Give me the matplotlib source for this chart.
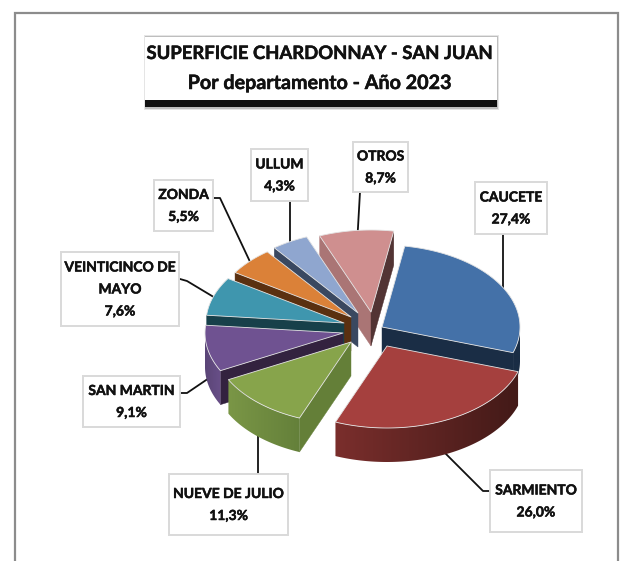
import numpy as np
import matplotlib
matplotlib.use('Agg')
import matplotlib.pyplot as plt
import matplotlib.patheffects as pe
from matplotlib.patches import Polygon, Rectangle
from matplotlib.colors import to_rgb

# data
departments = ['CAUCETE', 'SARMIENTO', 'NUEVE DE JULIO', 'SAN MARTIN',
               'VEINTICINCO DE\nMAYO', 'ZONDA', 'ULLUM', 'OTROS']
shares = [27.4, 26.0, 11.3, 9.1, 7.6, 5.5, 4.3, 8.7]

# style, one entry per slice
top_colors = ['#4471a8', '#a5403e', '#87a44b', '#6f5291', '#3f96ae', '#db8138', '#8fa6cf', '#cf8f8f']
cut_colors = ['#1a2d45', '#43191a', '#647f38', '#33223f', '#17404a', '#5a3010', '#3a4860', '#523434']
rim_left = ['#1a2d45', '#7a2e2c', '#7a9646', '#5a4577', '#17404a', '#5a3010', '#3a4860', '#aa7575']
rim_right = ['#1a2d45', '#431a18', '#64803a', '#6a5089', '#17404a', '#5a3010', '#3a4860', '#aa7575']
shifts = [(14, -2), (19, 17), (-17, 13), (-25, 4), (-24, -6), (-17, -12), (-10, -16), (3, -17)]
draw_order = [7, 6, 5, 4, 0, 3, 2, 1]

label_boxes = [(475, 182, 547, 234), (490, 470, 582, 532), (169, 474, 288, 535), (83, 376, 180, 427),
               (61, 252, 179, 326), (154, 180, 213, 231), (251, 149, 308, 201), (353, 142, 408, 192)]
leaders = [[(503, 234), (503, 295)],
           [(490, 491), (483, 491), (440, 448)],
           [(258, 474), (258, 420)],
           [(180, 393), (187, 393), (215, 374)],
           [(180, 279), (187, 281), (222, 302)],
           [(213, 198), (220, 198), (252, 266)],
           [(290, 201), (290, 255)],
           [(360, 192), (357, 245)]]

CX, CY = 368, 329
RX, RY = 138, 82
DEPTH = 34
START = 9.5
FONT = 'Lato'
INK = [pe.withStroke(linewidth=0.35, foreground='#111111')]

W, H = 622, 561
fig = plt.figure(figsize=(W / 100, H / 100), dpi=100)
ax = fig.add_axes([0, 0, 1, 1])

# outer frame, open at the bottom
ax.plot([14.5, 14.5, 618, 618], [H, 12.5, 12.5, H], color='#8c8c8c', lw=1.6, solid_joinstyle='miter')


def outer_point(cx, cy, deg):
    t = np.radians(deg)
    return cx + RX * np.sin(t), cy - RY * np.cos(t)


def draw_cut(apex, p, other, color, z):
    # flat cut side of a slice, only if it faces the viewer
    d = np.array(p) - np.array(apex)
    n = np.array([-d[1], d[0]])
    if np.dot(n, np.array(other) - np.array(apex)) > 0:
        n = -n
    if n[1] <= 0:
        return
    ax.add_patch(Polygon([apex, p, (p[0], p[1] + DEPTH), (apex[0], apex[1] + DEPTH)],
                         closed=True, fc=color, ec=color, lw=0.3, zorder=z))


def draw_rim(arc, left, right, z):
    # outer wall, shaded from left to right with a clipped gradient
    lower = [(p[0], p[1] + DEPTH) for p in reversed(arc)]
    wall = Polygon(list(arc) + lower, closed=True, fc='none', ec='none', zorder=z)
    ax.add_patch(wall)
    xs = [p[0] for p in arc]
    ys = [p[1] for p in arc]
    ramp = np.linspace(0, 1, 64)[None, :, None]
    grad = np.array(to_rgb(left))[None, None, :] * (1 - ramp) + np.array(to_rgb(right))[None, None, :] * ramp
    im = ax.imshow(grad, extent=(min(xs) - 0.5, max(xs) + 0.5, max(ys) + DEPTH + 1, min(ys) - 1),
                   aspect='auto', zorder=z, interpolation='bilinear')
    im.set_clip_path(wall)


bounds = START + np.concatenate([[0], np.cumsum(shares)]) * 360 / np.sum(shares)

for z, i in enumerate(draw_order):
    a0, a1 = bounds[i], bounds[i + 1]
    cx, cy = CX + shifts[i][0], CY + shifts[i][1]
    apex = (cx, cy)
    base = 10 + z * 3
    angles = np.linspace(a0, a1, max(int(a1 - a0) * 2, 8))
    arc = [outer_point(cx, cy, a) for a in angles]
    mid = arc[len(arc) // 2]

    draw_cut(apex, arc[0], mid, cut_colors[i] if i != 7 else rim_left[i], base)
    draw_cut(apex, arc[-1], mid, cut_colors[i], base)

    front = [p for p, a in zip(arc, angles) if np.cos(np.radians(a)) < 0]
    if len(front) > 1:
        draw_rim(front, rim_left[i], rim_right[i], base + 1)

    ax.add_patch(Polygon([apex] + arc, closed=True, fc=top_colors[i], ec='#e4e4e4', lw=0.6,
                         joinstyle='round', zorder=base + 2))

# leader lines run under the pie
for pts in leaders:
    ax.plot([p[0] for p in pts], [p[1] for p in pts], color='#111111', lw=1.3, zorder=5)

# data labels
for name, share, box in zip(departments, shares, label_boxes):
    x0, y0, x1, y1 = box
    ax.add_patch(Rectangle((x0, y0), x1 - x0, y1 - y0, fc='white', ec='#d9d9d9', lw=1.4, zorder=41))
    txt = name + '\n' + ('%.1f%%' % share).replace('.', ',')
    ax.text((x0 + x1) / 2, (y0 + y1) / 2 + 0.5, txt, ha='center', va='center', family=FONT, weight='bold',
            fontsize=10, color='#111111', linespacing=2.0, zorder=42, path_effects=INK)

# title box: soft grey halo, then the hard shadow under it
ax.add_patch(Rectangle((143.5, 35), 355, 75, fc='#999999', ec='none', alpha=0.25, zorder=43))
ax.add_patch(Rectangle((144.5, 36), 353, 72.5, fc='#777777', ec='none', alpha=0.35, zorder=43))
ax.add_patch(Rectangle((145, 100), 352, 6.5, fc='#111111', ec='none', zorder=43))
ax.add_patch(Rectangle((145, 37), 352, 63, fc='white', ec='none', zorder=44))
ax.text(320, 53.5, 'SUPERFICIE CHARDONNAY - SAN JUAN', ha='center', va='center', family=FONT, weight='bold',
        fontsize=13.3, color='#111111', zorder=45, path_effects=INK)
ax.text(320, 83, 'Por departamento - Año 2023', ha='center', va='center', family=FONT, weight='bold',
        fontsize=14.2, color='#111111', zorder=45, path_effects=INK)

# imshow resets the limits, so they are set last
ax.set_xlim(0, W)
ax.set_ylim(H, 0)
ax.axis('off')

fig.savefig('out.png', dpi=100)
